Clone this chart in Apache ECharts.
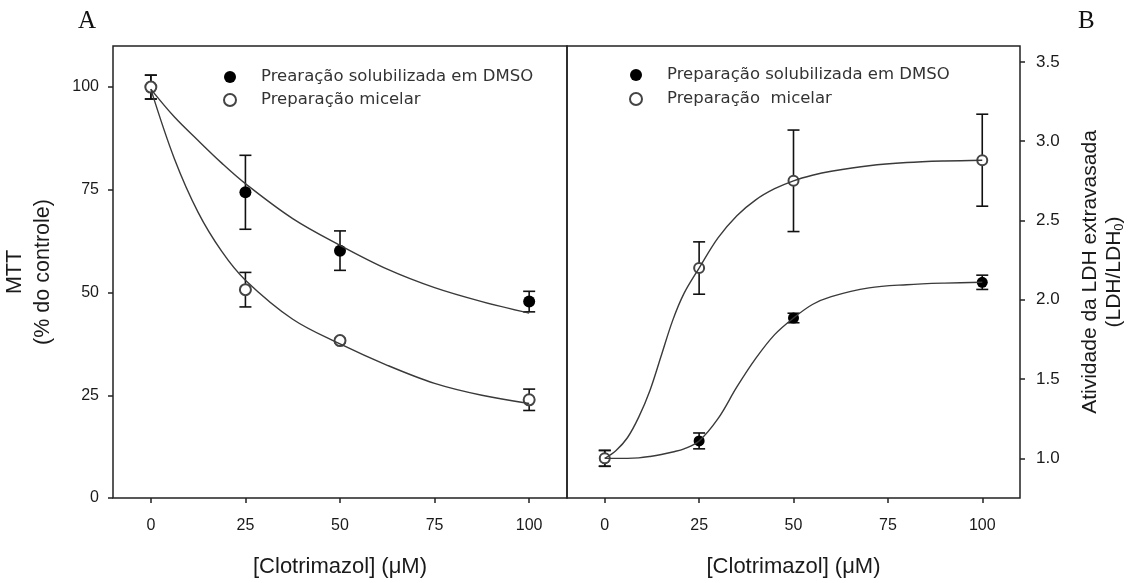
<!DOCTYPE html>
<html><head><meta charset="utf-8">
<script src="https://cdn.jsdelivr.net/npm/echarts@6/dist/echarts.min.js"></script>
<style>html,body{margin:0;padding:0;background:#fff}#c{width:1136px;height:583px}</style>
</head><body><div id="c"></div>
<script>
// ---- data ----
const concentrations = [0, 25, 50, 100];
const xTicks = [0, 25, 50, 75, 100];
const mttTicks = [0, 25, 50, 75, 100];
const ldhTicks = [1.0, 1.5, 2.0, 2.5, 3.0, 3.5];

const mttDmso = [100, 74.4, 60.2, 47.8];
const mttDmsoErr = [2.9, 9.0, 4.8, 2.5];
const mttMicelar = [100, 50.7, 38.3, 23.9];
const mttMicelarErr = [2.9, 4.2, 0.5, 2.6];

const ldhDmso = [1.0, 1.11, 1.885, 2.11];
const ldhDmsoErr = [0.05, 0.05, 0.03, 0.045];
const ldhMicelar = [1.0, 2.20, 2.75, 2.88];
const ldhMicelarErr = [0.05, 0.165, 0.32, 0.29];

// fitted curves
const mttFitX = [0, 6.25, 12.5, 18.75, 25, 37.5, 50, 62.5, 75, 87.5, 100];
const mttDmsoFit = [99.5, 92.7, 87, 81.5, 76.5, 68, 61.5, 55.7, 51.2, 47.8, 45];
const mttMicelarFit = [99.5, 82.5, 69.5, 60, 53, 43.5, 37.5, 32.3, 27.9, 25.0, 23.0];

const ldhFitX = [0, 3, 6, 9, 12, 15, 18, 21, 25, 30, 35, 40, 45, 50, 55, 60, 70, 80, 90, 100];
const ldhMicelarFit = [1.0, 1.05, 1.13, 1.26, 1.43, 1.65, 1.87, 2.04, 2.20, 2.39, 2.53, 2.63, 2.70, 2.75, 2.785, 2.81, 2.845, 2.865, 2.875, 2.88];
const ldhDmsoFit = [1.0, 1.0, 1.0, 1.003, 1.012, 1.024, 1.04, 1.06, 1.11, 1.25, 1.45, 1.63, 1.78, 1.885, 1.97, 2.02, 2.075, 2.095, 2.105, 2.11];

const legendA = ['Prearação solubilizada em DMSO', 'Preparação micelar'];
const legendB = ['Preparação solubilizada em DMSO', 'Preparação  micelar'];

// ---- helpers ----
const zip = (xs, ys) => xs.map((x, i) => [x, ys[i]]);
const errData = (xs, ys, es) => xs.map((x, i) => [x, ys[i] - es[i], ys[i] + es[i]]);

const SANS = "'Liberation Sans', Arial, sans-serif";
const INK = '#1a1a1a';

function errorSeries(idx, data) {
  return {
    type: 'custom', xAxisIndex: idx, yAxisIndex: idx, z: 1, silent: true,
    data: data, encode: { x: 0, y: [1, 2] },
    renderItem: function (params, api) {
      const x = api.value(0);
      const lo = api.coord([x, api.value(1)]);
      const hi = api.coord([x, api.value(2)]);
      const w = 6;
      const st = { stroke: '#111', lineWidth: 1.6 };
      return { type: 'group', children: [
        { type: 'line', shape: { x1: lo[0], y1: lo[1], x2: hi[0], y2: hi[1] }, style: st },
        { type: 'line', shape: { x1: lo[0] - w, y1: lo[1], x2: lo[0] + w, y2: lo[1] }, style: st },
        { type: 'line', shape: { x1: hi[0] - w, y1: hi[1], x2: hi[0] + w, y2: hi[1] }, style: st }
      ]};
    }
  };
}
function fitSeries(idx, xs, ys) {
  return {
    type: 'line', xAxisIndex: idx, yAxisIndex: idx, z: 5, silent: true,
    data: zip(xs, ys), smooth: 0.35, showSymbol: false,
    lineStyle: { color: '#3a3a3a', width: 1.4 }
  };
}
function xAxisCfg(idx) {
  return {
    gridIndex: idx, type: 'value', min: -10, max: 110,
    axisLine: { show: false, onZero: false },
    splitLine: { show: false },
    axisTick: { show: true, length: 5, customValues: xTicks, lineStyle: { color: '#222', width: 1.5 } },
    axisLabel: { customValues: xTicks, margin: 20, fontFamily: SANS, fontSize: 16, color: INK },
    name: '[Clotrimazol] (\u03bcM)', nameLocation: 'middle', nameGap: 58,
    nameTextStyle: { fontFamily: SANS, fontSize: 22, color: INK }
  };
}

const chart = echarts.init(document.getElementById('c'), null, { renderer: 'canvas' });
chart.setOption({
  animation: false,
  backgroundColor: '#fff',
  grid: [
    { left: 113, top: 46, width: 454, height: 452, show: true, borderColor: '#222', borderWidth: 1.5, containLabel: false, outerBoundsMode: 'none' },
    { left: 567, top: 46, width: 453, height: 452, show: true, borderColor: '#222', borderWidth: 1.5, containLabel: false, outerBoundsMode: 'none' }
  ],
  xAxis: [xAxisCfg(0), xAxisCfg(1)],
  yAxis: [
    {
      gridIndex: 0, type: 'value', min: 0, max: 110,
      axisLine: { show: false, onZero: false }, splitLine: { show: false },
      axisTick: { show: true, length: 5, customValues: mttTicks, lineStyle: { color: '#222', width: 1.5 } },
      axisLabel: { customValues: mttTicks, margin: 14, fontFamily: SANS, fontSize: 16, color: INK },
      name: 'MTT\n(% do controle)', nameLocation: 'middle', nameRotate: 90, nameGap: 56,
      nameTextStyle: { fontFamily: SANS, fontSize: 21.5, color: INK, lineHeight: 28 }
    },
    {
      gridIndex: 1, type: 'value', position: 'right', min: 0.75, max: 3.6,
      axisLine: { show: false, onZero: false }, splitLine: { show: false },
      axisTick: { show: true, length: 5, customValues: ldhTicks, lineStyle: { color: '#222', width: 1.5 } },
      axisLabel: { customValues: ldhTicks, margin: 16, fontFamily: SANS, fontSize: 17, color: INK,
        formatter: v => Number(v).toFixed(1) },
      name: '{a|Atividade da LDH extravasada}\n{a|(LDH/LDH}{s|0}{a|)}',
      nameLocation: 'middle', nameRotate: 90, nameGap: 58,
      nameTextStyle: { fontFamily: SANS, fontSize: 21, color: INK, lineHeight: 24,
        rich: {
          a: { fontFamily: SANS, fontSize: 21, color: INK, lineHeight: 24 },
          s: { fontFamily: SANS, fontSize: 13, color: INK, lineHeight: 14, verticalAlign: 'bottom' }
        } }
    }
  ],
  legend: [
    { left: 218, top: 63, orient: 'vertical', itemWidth: 52, itemHeight: 12, itemGap: 5,
      selectedMode: false, data: legendA,
      textStyle: { fontFamily: "'DejaVu Sans', sans-serif", fontSize: 16.5, color: '#333', lineHeight: 18 } },
    { left: 624, top: 61, orient: 'vertical', itemWidth: 52, itemHeight: 12, itemGap: 6,
      selectedMode: false, data: legendB,
      textStyle: { fontFamily: "'DejaVu Sans', sans-serif", fontSize: 16.5, color: '#333', lineHeight: 18 } }
  ],
  graphic: [
    { type: 'text', left: 78, top: 9, style: { text: 'A', font: "25px 'Liberation Serif', serif", fill: '#111' } },
    { type: 'text', left: 1078, top: 9, style: { text: 'B', font: "25px 'Liberation Serif', serif", fill: '#111' } }
  ],
  series: [
    errorSeries(0, errData(concentrations, mttDmso, mttDmsoErr)),
    errorSeries(0, errData(concentrations, mttMicelar, mttMicelarErr)),
    { type: 'scatter', name: legendA[0], xAxisIndex: 0, yAxisIndex: 0, z: 3,
      data: zip(concentrations, mttDmso), symbol: 'circle', symbolSize: 12, itemStyle: { color: '#000', opacity: 1 } },
    { type: 'scatter', name: legendA[1], xAxisIndex: 0, yAxisIndex: 0, z: 4,
      data: zip(concentrations, mttMicelar), symbol: 'emptyCircle', symbolSize: 11, itemStyle: { color: '#444', opacity: 1 } },
    fitSeries(0, mttFitX, mttDmsoFit),
    fitSeries(0, mttFitX, mttMicelarFit),

    errorSeries(1, errData(concentrations, ldhDmso, ldhDmsoErr)),
    errorSeries(1, errData(concentrations, ldhMicelar, ldhMicelarErr)),
    { type: 'scatter', name: legendB[0], xAxisIndex: 1, yAxisIndex: 1, z: 3,
      data: zip(concentrations, ldhDmso), symbol: 'circle', symbolSize: 11, itemStyle: { color: '#000', opacity: 1 } },
    { type: 'scatter', name: legendB[1], xAxisIndex: 1, yAxisIndex: 1, z: 4,
      data: zip(concentrations, ldhMicelar), symbol: 'emptyCircle', symbolSize: 10, itemStyle: { color: '#444', opacity: 1 } },
    fitSeries(1, ldhFitX, ldhDmsoFit),
    fitSeries(1, ldhFitX, ldhMicelarFit)
  ]
});
</script>
</body></html>
